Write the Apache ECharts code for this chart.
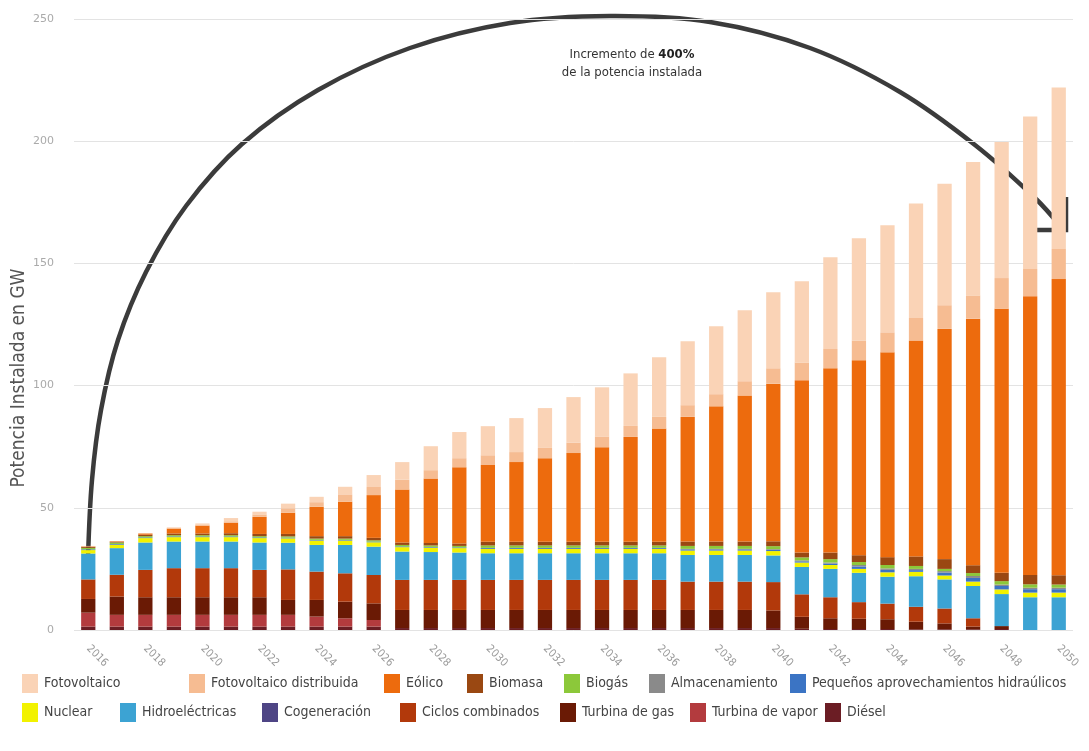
<!DOCTYPE html>
<html>
<head>
<meta charset="utf-8">
<script src="https://cdn.jsdelivr.net/npm/echarts@6/dist/echarts.min.js"></script>
<style>
  html, body { margin: 0; padding: 0; background: #ffffff; }
  #chart { width: 1089px; height: 751px; }
</style>
</head>
<body>
<div id="chart"></div>
<script>
// Potencia instalada por fuente, GW, 2016-2050
const years = [];
for (let y = 2016; y <= 2050; y++) years.push(String(y));

const diesel      = [1.4,1.4,1.4,1.4,1.4,1.4,1.4,1.4,1.4,1.4,1.4, 0.8,0.8,0.8,0.8,0.8,0.8,0.8,0.8,0.8,0.8,0.8,0.8,0.8,0.8, 0.5,0.4,0.4,0.4,0.3,0.3,0.3,0.4,0,0];
const turbVapor   = [5.7,4.8,4.8,4.8,4.8,4.8,4.8,4.8,4.1,3.4,2.7, 0,0,0,0,0,0,0,0,0,0,0,0,0,0, 0,0,0,0,0,0,0,0,0,0];
const turbGas     = [5.6,7.5,7.2,7.2,7.2,7.2,7.2,6.1,6.8,6.8,6.8, 7.4,7.4,7.4,7.4,7.4,7.4,7.4,7.4,7.4,7.4,7.4,7.4,7.4,7.2, 4.9,4.4,4.2,4.0,3.1,2.4,1.1,1.2,0,0];
const ciclos      = [8.0,8.9,11.2,11.9,11.9,11.9,11.2,12.5,11.6,11.6,11.6, 12.3,12.3,12.3,12.3,12.3,12.3,12.3,12.3,12.3,12.3,11.6,11.6,11.6,11.6, 9.2,8.6,6.8,6.4,6.1,6.1,3.4,0,0,0];
const cogeneracion= [0,0,0,0,0,0,0,0,0,0,0, 0,0,0,0,0,0,0,0,0,0,0,0,0,0, 0,0,0,0,0,0,0,0,0,0];
const hidro       = [10.6,10.9,11.2,10.9,10.9,10.9,11.2,10.9,10.9,11.6,11.6, 11.6,11.4,11.2,10.9,10.9,10.9,10.9,10.9,10.9,10.9,10.9,10.9,10.9,10.9, 11.2,11.6,12.0,11.0,12.5,11.9,13.2,13.1,13.4,13.4];
const nuclear     = [1.4,1.4,1.8,1.8,1.8,1.8,1.8,1.8,1.8,1.8,1.8, 1.8,1.8,1.8,1.8,1.8,1.8,1.8,1.8,1.8,1.8,1.8,1.8,1.8,1.8, 1.8,1.6,1.6,1.8,1.8,1.6,1.8,1.9,1.9,1.9];
const pequenos    = [0.3,0.3,0.3,0.3,0.3,0.3,0.3,0.3,0.3,0.3,0.3, 0.3,0.3,0.3,0.4,0.4,0.4,0.4,0.4,0.4,0.4,0.5,0.5,0.5,0.5, 0.5,0.6,1.0,1.0,0.7,1.2,1.5,1.4,1.4,1.4];
const almacen     = [0,0,0,0,0,0,0,0,0,0,0, 0,0,0,0,0,0,0,0,0,0,0.2,0.2,0.2,0.3, 0.4,0.4,0.6,0.6,0.5,0.6,0.8,0.6,0.6,0.6];
const biogas      = [0.6,0.6,0.5,0.5,0.5,0.5,0.5,0.5,0.5,0.5,0.5, 0.6,0.6,0.6,1.0,1.0,1.0,1.0,1.0,1.0,1.0,1.2,1.2,1.2,1.2, 1.2,1.4,1.2,1.4,1.2,0.9,1.2,1.4,1.4,1.3];
const biomasa     = [0.4,0.3,0.6,0.7,0.7,0.8,0.9,1.0,1.0,1.0,1.0, 1.0,1.0,1.0,1.5,1.5,1.5,1.5,1.5,1.5,1.5,1.8,1.8,1.8,2.0, 2.0,2.7,2.8,3.2,3.9,4.0,3.2,3.4,3.8,3.8];
const eolico      = [0.2,0.2,0.5,2.0,3.2,4.3,7.0,8.7,12.0,14.1, 17.5,21.7,26.4,31.2,31.4,32.6,34.2,36.3,38.7,42.9, 46.3,51.0,55.3,59.8,64.5,70.5,75.4,79.8,83.8,88.4, 94.2,100.9,108.0,114.1,121.2];
const fvDistrib   = [0,0,0,0.2,0.3,0.6,1.0,1.8,1.9,3.0, 3.3,4.0,3.4,3.7,4.0,4.1,4.2,4.3,4.4,4.5, 4.8,4.8,5.0,5.8,6.3,7.2,7.9,8.0,8.2,9.2, 9.7,9.5,12.6,11.1,12.3];
const fotovolt    = [0.2,0,0.1,0.3,0.6,1.3,1.1,1.9,2.2,3.1, 4.9,7.2,9.8,10.7,11.9,13.9,16.3,18.6,20.1,21.5, 24.4,26.1,27.8,29.0,31.1,33.3,37.5,41.9,43.8,46.8, 49.7,54.6,55.7,62.4,66.1];

const yTicks = [0, 50, 100, 150, 200, 250];

// stacking order, bottom to top
const sources = [
  { name: 'Diésel',                                data: diesel,       color: '#6b1d24' },
  { name: 'Turbina de vapor',                      data: turbVapor,    color: '#b33b3e' },
  { name: 'Turbina de gas',                        data: turbGas,      color: '#6a1a05' },
  { name: 'Ciclos combinados',                     data: ciclos,       color: '#b2390b' },
  { name: 'Cogeneración',                          data: cogeneracion, color: '#4e4585' },
  { name: 'Hidroeléctricas',                       data: hidro,        color: '#3ca3d3' },
  { name: 'Nuclear',                               data: nuclear,      color: '#f2f200' },
  { name: 'Pequeños aprovechamientos hidraúlicos', data: pequenos,     color: '#3b74c4' },
  { name: 'Almacenamiento',                        data: almacen,      color: '#8a8a8a' },
  { name: 'Biogás',                                data: biogas,       color: '#8cc83a' },
  { name: 'Biomasa',                               data: biomasa,      color: '#9a4812' },
  { name: 'Eólico',                                data: eolico,       color: '#ed6b0d' },
  { name: 'Fotovoltaico distribuida',              data: fvDistrib,    color: '#f6bc92' },
  { name: 'Fotovoltaico',                          data: fotovolt,     color: '#fad3b6' }
];

// legend entries: two rows, each entry at its own column
const legendRow1 = ['Fotovoltaico', 'Fotovoltaico distribuida', 'Eólico', 'Biomasa', 'Biogás', 'Almacenamiento', 'Pequeños aprovechamientos hidraúlicos'];
const legendRow2 = ['Nuclear', 'Hidroeléctricas', 'Cogeneración', 'Ciclos combinados', 'Turbina de gas', 'Turbina de vapor', 'Diésel'];
const legendCols1 = [22, 189, 384, 467, 564, 649, 790];
const legendCols2 = [22, 120, 262, 400, 560, 690, 825];

const FONT = "'DejaVu Sans Condensed', 'Noto Sans', sans-serif";

const chart = echarts.init(document.getElementById('chart'), null, { renderer: 'canvas' });

function legendItem(name, left, top) {
  return {
    data: [name],
    left: left,
    top: top,
    padding: 0,
    itemWidth: 16,
    itemHeight: 19,
    icon: 'rect',
    selectedMode: false,
    textStyle: { fontFamily: FONT, fontSize: 14, color: '#444', padding: [0, 0, 0, 1] }
  };
}

const legends = [];
legendRow1.forEach((n, i) => legends.push(legendItem(n, legendCols1[i], 674)));
legendRow2.forEach((n, i) => legends.push(legendItem(n, legendCols2[i], 703)));

const option = {
  backgroundColor: '#ffffff',
  animation: false,
  textStyle: { fontFamily: FONT },
  grid: { left: 74, right: 16, top: 19, bottom: 121, containLabel: false },
  legend: legends,
  xAxis: {
    type: 'category',
    data: years,
    axisLine: { show: false },
    axisTick: { show: false },
    axisLabel: {
      interval: 1,
      rotate: -45,
      color: '#999',
      fontSize: 11,
      fontFamily: FONT,
      margin: 17
    }
  },
  yAxis: {
    type: 'value',
    min: yTicks[0],
    max: yTicks[yTicks.length - 1],
    interval: 50,
    axisLine: { show: false },
    axisTick: { show: false },
    axisLabel: { color: '#aaa', fontSize: 11, margin: 20, fontFamily: "'DejaVu Sans', sans-serif" },
    splitLine: { lineStyle: { color: '#e3e3e3', width: 1 } }
  },
  series: sources.map(s => ({
    name: s.name,
    type: 'bar',
    stack: 'total',
    barWidth: '50%',
    data: s.data,
    itemStyle: { color: s.color },
    emphasis: { disabled: true }
  })),
  graphic: [
    {
      type: 'text',
      x: 19, y: 378,
      rotation: Math.PI / 2,
      style: {
        text: 'Potencia Instalada en GW',
        fill: '#555',
        font: "19px " + FONT,
        align: 'center',
        verticalAlign: 'middle'
      }
    },
    {
      type: 'polyline',
      shape: {
        smooth: 0.35,
        points: [[88,558],[92,480],[101,410],[118,340],[146,272],[186,206],[242,144],[318,90],[410,48],[510,23],[610,16],[710,22],[810,48],[900,92],[975,145],[1035,198],[1062,228]]
      },
      style: { stroke: '#3b3b3b', lineWidth: 4.5, fill: null, lineCap: 'round' }
    },
    {
      type: 'polyline',
      shape: { points: [[1034,230],[1066,230],[1066,197]] },
      style: { stroke: '#3b3b3b', lineWidth: 4.5, fill: null, lineJoin: 'miter' }
    },
    {
      type: 'text',
      x: 632, y: 64,
      style: {
        text: '{n|Incremento de }{b|400%}\n{n|de la potencia instalada}',
        align: 'center',
        verticalAlign: 'middle',
        rich: {
          n: { fontFamily: FONT, fontSize: 13, fill: '#333', lineHeight: 18 },
          b: { fontFamily: FONT, fontSize: 13, fontWeight: 'bold', fill: '#222', lineHeight: 18 }
        }
      }
    }
  ]
};

chart.setOption(option);
</script>
</body>
</html>
